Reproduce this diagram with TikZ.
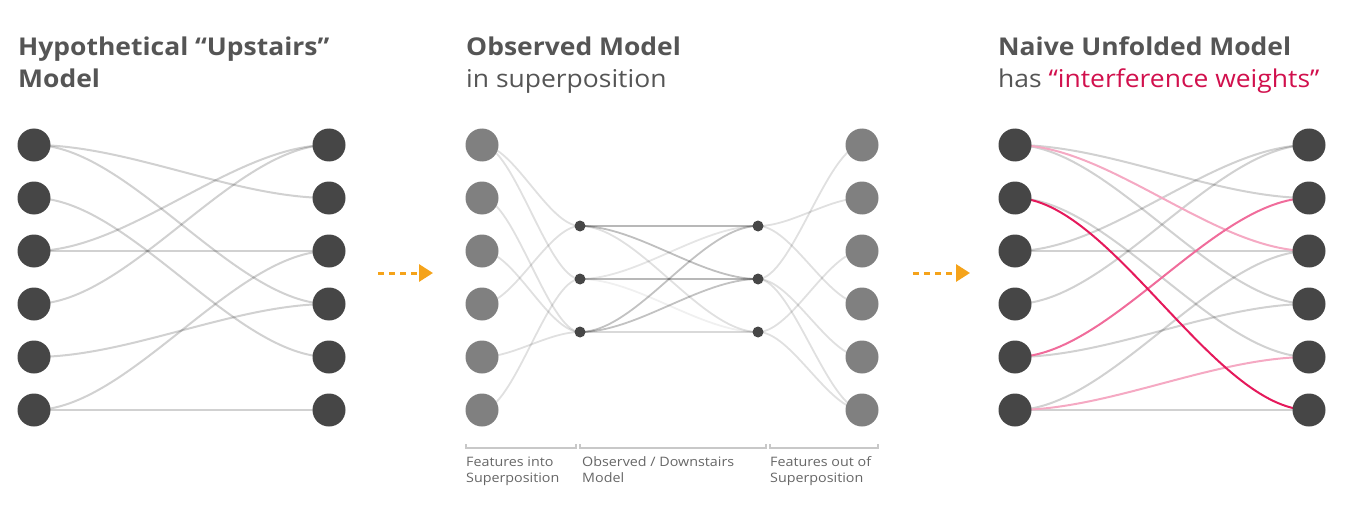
\documentclass[tikz,border=0pt]{standalone}
\usepackage{fontspec}
\setmainfont{Open Sans}
\newfontfamily\titlefont{Open Sans}[FakeStretch=1.08]
\newfontfamily\labelfont{Open Sans}[FakeStretch=1.1]
\usetikzlibrary{calc,arrows.meta}
\definecolor{nodedark}{HTML}{464646}
\definecolor{nodegray}{HTML}{808080}
\definecolor{titlegray}{HTML}{555555}
\definecolor{labelgray}{HTML}{666666}
\definecolor{orangearrow}{HTML}{F5A31A}
\definecolor{pinklight}{HTML}{F5A9C3}
\definecolor{pinkmid}{HTML}{F06C9B}
\definecolor{pinkstrong}{HTML}{E5195B}
\definecolor{crimson}{HTML}{D1104D}
\definecolor{bracketgray}{HTML}{C8C8C8}
\pgfdeclarelayer{bg}
\pgfsetlayers{bg,main}
\tikzset{
  bigdark/.style={circle, fill=nodedark, minimum size=33pt, inner sep=0pt},
  biggray/.style={circle, fill=nodegray, minimum size=33pt, inner sep=0pt},
  smalldot/.style={circle, fill=nodedark, minimum size=11pt, inner sep=0pt},
  lnk/.style={to path={.. controls ($(\tikztostart)!0.32!(\tikztostart -| \tikztotarget)$) and ($(\tikztotarget)!0.32!(\tikztotarget -| \tikztostart)$) .. (\tikztotarget)}},
  wire/.style={line width=2pt, draw=black, draw opacity=0.18, lnk},
  midwire/.style={line width=1.8pt, draw=black, draw opacity=#1, lnk},
  pinkwire/.style={line width=2pt, draw=#1, lnk},
  titlebold/.style={anchor=base west, inner sep=0pt, text=titlegray, font=\titlefont\fontsize{24.5}{28}\selectfont\bfseries},
  titlereg/.style={anchor=base west, inner sep=0pt, text=titlegray, font=\titlefont\fontsize{24.5}{28}\selectfont},
  smalllabel/.style={anchor=base west, inner sep=0pt, text=labelgray, font=\labelfont\fontsize{13}{16}\selectfont},
  bracket/.style={line width=1.8pt, draw=bracketgray},
  flowarrow/.style={line width=3pt, draw=orangearrow, dash pattern=on 6pt off 5pt, -{Triangle[length=14pt,width=17pt,fill=orangearrow]}}
}
\begin{document}
\begin{tikzpicture}[x=1pt,y=-1pt]
\useasboundingbox (0,0) rectangle (1354,508);
% titles
\node[titlebold] (t1a) at (18,56) {Hypothetical “Upstairs”};
\node[titlebold] (t1b) at (18,88) {Model};
\node[titlebold] (t2a) at (466,56) {Observed Model};
\node[titlereg] (t2b) at (466,88) {in superposition};
\node[titlebold] (t3a) at (998,56) {Naive Unfolded Model};
\node[titlereg] (t3b) at (998,88) {has \textcolor{crimson}{“interference weights”}};
% nodes
\foreach \i in {1,...,6} {
  \pgfmathsetmacro{\yy}{145+53*(\i-1)}
  \node[bigdark] (A\i) at (34,\yy) {};
  \node[bigdark] (B\i) at (329,\yy) {};
  \node[biggray] (F\i) at (482,\yy) {};
  \node[biggray] (O\i) at (862,\yy) {};
  \node[bigdark] (C\i) at (1015,\yy) {};
  \node[bigdark] (D\i) at (1309,\yy) {};
}
\foreach \i/\yy in {1/226,2/279,3/332} {
  \node[smalldot] (H\i) at (580,\yy) {};
  \node[smalldot] (G\i) at (758,\yy) {};
}
\begin{pgfonlayer}{bg}
% left panel
\foreach \a/\b in {1/2,1/4,2/5,3/1,3/3,4/1,5/4,6/3,6/6} {
  \draw[wire] (A\a.center) to (B\b.center);
  \draw[wire] (C\a.center) to (D\b.center);
}
% right panel pink
\draw[pinkwire=pinklight] (C1.center) to (D3.center);
\draw[pinkwire=pinklight] (C6.center) to (D5.center);
\draw[pinkwire=pinkmid] (C5.center) to (D2.center);
\draw[pinkwire=pinkstrong] (C2.center) to (D6.center);
% middle panel
\foreach \a/\b in {1/1,1/2,2/3,3/3,4/1,5/3,6/2} {
  \draw[midwire=0.12] (F\a.center) to (H\b.center);
}
\foreach \a/\b/\op in {1/1/0.28,2/2/0.28,3/3/0.15,1/2/0.25,1/3/0.12,2/1/0.1,2/3/0.06,3/1/0.24,3/2/0.24} {
  \draw[midwire=\op] (H\a.center) to (G\b.center);
}
\foreach \a/\b in {1/2,1/4,2/1,2/5,2/6,3/3,3/6} {
  \draw[midwire=0.12] (G\a.center) to (O\b.center);
}
\end{pgfonlayer}
% arrows
\coordinate (ar1s) at (378,273);
\coordinate (ar1e) at (433,273);
\coordinate (ar2s) at (913,273);
\coordinate (ar2e) at (970,273);
\draw[flowarrow] (ar1s) -- (ar1e);
\draw[flowarrow] (ar2s) -- (ar2e);
% brackets
\draw[bracket] (466,444) -- (466,448) -- (576,448) -- (576,444);
\draw[bracket] (580,444) -- (580,448) -- (766,448) -- (766,444);
\draw[bracket] (770,444) -- (770,448) -- (878,448) -- (878,444);
\node[smalllabel] (l1a) at (466,466) {Features into};
\node[smalllabel] (l1b) at (466,482) {Superposition};
\node[smalllabel] (l2a) at (582,466) {Observed / Downstairs};
\node[smalllabel] (l2b) at (582,482) {Model};
\node[smalllabel] (l3a) at (770,466) {Features out of};
\node[smalllabel] (l3b) at (770,482) {Superposition};
\end{tikzpicture}
\end{document}
